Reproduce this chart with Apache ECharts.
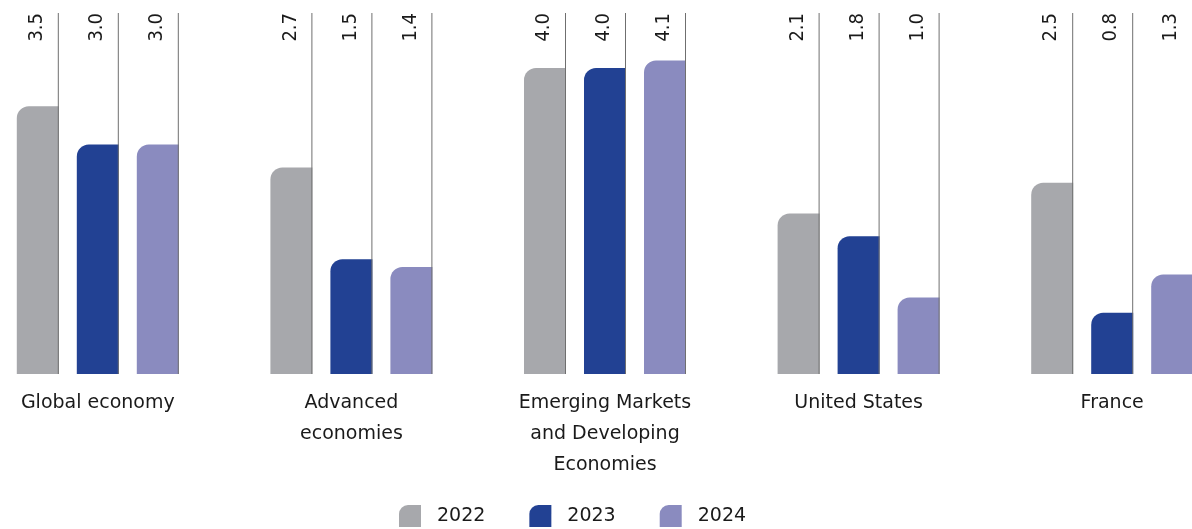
<!DOCTYPE html>
<html>
<head>
<meta charset="utf-8">
<script src="https://cdn.jsdelivr.net/npm/echarts@6/dist/echarts.min.js"></script>
<style>
html,body{margin:0;padding:0;background:#fff;}
#chart{width:1192px;height:529px;}
</style>
</head>
<body>
<div id="chart"></div>
<script>
const categories = ['Global economy', 'Advanced\neconomies', 'Emerging Markets\nand Developing\nEconomies', 'United States', 'France'];
const years = ['2022', '2023', '2024'];
const values2022 = [3.5, 2.7, 4.0, 2.1, 2.5];
const values2023 = [3.0, 1.5, 4.0, 1.8, 0.8];
const values2024 = [3.0, 1.4, 4.1, 1.0, 1.3];
const seriesValues = [values2022, values2023, values2024];
const colors = ['#a7a8ac', '#224193', '#8a8bbf'];

const BAR_W = 42;
const BAR_GAP = 18;
const N = years.length;
const TOTAL = N * BAR_W + (N - 1) * BAR_GAP;

const chart = echarts.init(document.getElementById('chart'), null, {renderer: 'canvas'});

const iconPath = 'path://M0,9 A9,9 0 0 1 9,0 L22,0 L22,22 L0,22 Z';

const barSeries = years.map((y, k) => ({
  name: y,
  type: 'bar',
  data: seriesValues[k],
  barWidth: BAR_W,
  barGap: (BAR_GAP / BAR_W * 100) + '%',
  itemStyle: {color: colors[k], borderRadius: [12, 0, 0, 0]},
  z: 2
}));

const lineSeries = years.map((y, k) => ({
  name: y + '-lines',
  type: 'custom',
  data: seriesValues[k].map((v, i) => [i, v]),
  encode: {x: 0, y: 1},
  z: 3,
  silent: true,
  renderItem: function (params, api) {
    const idx = api.value(0);
    const base = api.coord([idx, 0]);
    const cx = base[0];
    const left = cx - TOTAL / 2 + k * (BAR_W + BAR_GAP);
    const right = left + BAR_W;
    const top = params.coordSys.y;
    const val = api.value(1);
    return {
      type: 'group',
      children: [
        {
          type: 'line',
          shape: {x1: right - 0.5, y1: top, x2: right - 0.5, y2: base[1]},
          style: {stroke: '#6f6f6f', lineWidth: 1}
        },
        {
          type: 'text',
          x: left + BAR_W / 2 - 1,
          y: top,
          rotation: Math.PI / 2,
          style: {
            text: val.toFixed(1),
            align: 'right',
            verticalAlign: 'middle',
            fontSize: 20,
            fontFamily: "'DejaVu Sans Condensed', 'DejaVu Sans', sans-serif",
            fill: '#1a1a1a'
          }
        }
      ]
    };
  }
}));

chart.setOption({
  animation: false,
  backgroundColor: '#ffffff',
  grid: {left: -29, right: -47, top: 13, bottom: 155, containLabel: false, outerBoundsMode: 'none'},
  legend: {
    data: years.map((y, k) => ({name: y, icon: iconPath})),
    left: 399,
    top: 505,
    padding: 0,
    itemWidth: 22,
    itemHeight: 22,
    itemGap: 44,
    textStyle: {fontSize: 19, fontFamily: "'DejaVu Sans', sans-serif", color: '#1a1a1a', padding: [0, 0, 0, 11]}
  },
  xAxis: {
    type: 'category',
    data: categories,
    axisLine: {show: false},
    axisTick: {show: false},
    axisLabel: {
      interval: 0,
      margin: 14,
      fontSize: 19,
      lineHeight: 31,
      fontFamily: "'DejaVu Sans', sans-serif",
      color: '#1a1a1a',
      align: 'center'
    }
  },
  yAxis: {
    type: 'value',
    min: 0,
    max: 4.72,
    show: false,
    splitLine: {show: false}
  },
  series: [...barSeries, ...lineSeries]
});
</script>
</body>
</html>
